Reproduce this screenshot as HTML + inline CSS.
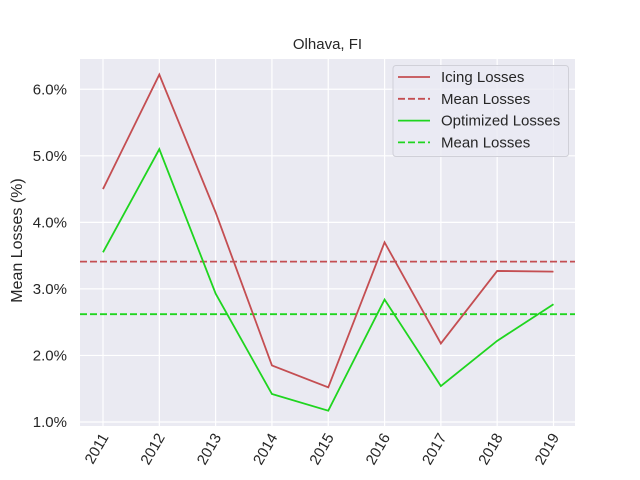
<!DOCTYPE html>
<html><head><meta charset="utf-8"><style>body{margin:0;background:#fff}svg{display:block}text{font-family:"Liberation Sans",sans-serif;fill:#262626}</style></head>
<body>
<svg id="c" width="640" height="480"></svg>
<script>
const years=[2011,2012,2013,2014,2015,2016,2017,2018,2019];
const icing=[4.5,6.22,4.15,1.85,1.52,3.7,2.18,3.27,3.26];
const optimized=[3.55,5.1,2.93,1.42,1.17,2.84,1.54,2.22,2.77];
const icingMean=3.41;
const optMean=2.62;
const yTicks=[1,2,3,4,5,6];
const NS="http://www.w3.org/2000/svg";
const svg=document.getElementById('c');
const L=80,R=575,T=59,B=426;
const x=i=>103+i*(553.5-103)/8;
const y=v=>422-(v-1)*66.55;
function el(t,a,p){const e=document.createElementNS(NS,t);for(const k in a)e.setAttribute(k,a[k]);(p||svg).appendChild(e);return e;}
const bg=el('rect',{x:L,y:T,width:R-L,height:B-T,fill:'#eaeaf2'});


yTicks.forEach(v=>{
 const g=el('line',{x1:L,x2:R,y1:y(v),y2:y(v),stroke:'#fff','stroke-width':1.2});
 
 
 const t=el('text',{x:L-13,y:y(v)+5,'text-anchor':'end','font-size':15});
 t.textContent=v.toFixed(1)+'%';
 
 
});
years.forEach((yr,i)=>{
 const g=el('line',{x1:x(i),x2:x(i),y1:T,y2:B,stroke:'#fff','stroke-width':1.2});
 
 
 const t=el('text',{x:0,y:0,'text-anchor':'end','font-size':15,transform:`translate(${x(i)+6},${B+11}) rotate(-60)`});
 t.textContent=yr;
 
 
});
function line(vals,color,name){
 const p=el('polyline',{points:vals.map((v,i)=>x(i)+','+y(v)).join(' '),fill:'none',stroke:color,'stroke-width':1.8});
 
 
}
function hline(v,color,name){
 const p=el('line',{x1:L,x2:R,y1:y(v),y2:y(v),stroke:color,'stroke-width':1.8,'stroke-dasharray':'7,3'});
 
 
}
hline(icingMean,'#c44e52','icing-mean-line');
hline(optMean,'#1fd51f','optimized-mean-line');
line(icing,'#c44e52','icing-losses-line');
line(optimized,'#1fd51f','optimized-losses-line');
const title=el('text',{x:(L+R)/2,y:49,'text-anchor':'middle','font-size':15});
title.textContent='Olhava, FI';


const yt=el('text',{x:0,y:0,'text-anchor':'middle','font-size':16,transform:`translate(22,${(T+B)/2-2}) rotate(-90)`});
yt.textContent='Mean Losses (%)';


const lg=el('g',{});


el('rect',{x:393,y:65.5,width:175.5,height:91,rx:3,fill:'#eaeaf2',stroke:'#d0d0d8','stroke-width':1,'fill-opacity':0.8},lg);
const items=[['Icing Losses','#c44e52',false],['Mean Losses','#c44e52',true],['Optimized Losses','#1fd51f',false],['Mean Losses','#1fd51f',true]];
items.forEach((it,k)=>{
 const yy=77+k*21.8;
 const g=el('g',{},lg);
 
 
 const a={x1:398,x2:430,y1:yy,y2:yy,stroke:it[1],'stroke-width':1.8};
 if(it[2])a['stroke-dasharray']='7,3';
 el('line',a,g);
 const t=el('text',{x:441,y:yy+5,'font-size':15},g);
 t.textContent=it[0];
});
</script>
</body></html>
